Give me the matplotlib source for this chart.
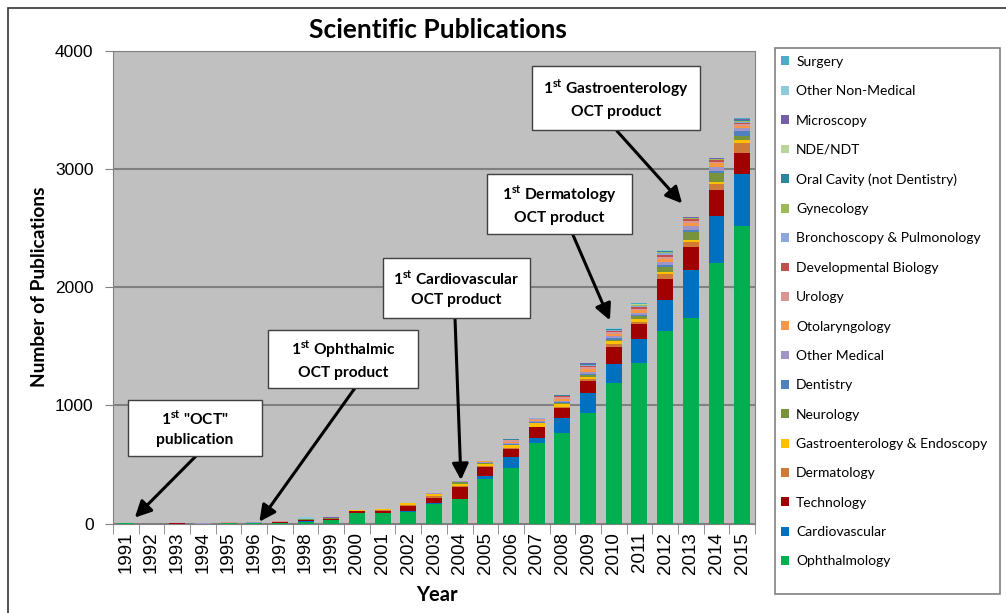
import numpy as np
import matplotlib.pyplot as plt
from matplotlib.patches import Rectangle, Patch

plt.rcParams["font.family"] = ["Lato", "DejaVu Sans"]
plt.rcParams["mathtext.fontset"] = "custom"
plt.rcParams["mathtext.rm"] = "Lato"
plt.rcParams["mathtext.bf"] = "Lato:bold"

years = [str(y) for y in range(1991, 2016)]

# publications per field, 1991..2015 (stacked bottom -> top)
ophthalmology = [1, 0, 0, 0, 4, 3, 4, 15, 30, 90, 85, 97, 163, 205, 377, 468, 680, 770, 934, 1190, 1360, 1627, 1737, 2203, 2517]
cardiovascular = [1, 0, 0, 0, 0, 0, 0, 2, 0, 3, 3, 5, 13, 2, 26, 93, 42, 122, 174, 162, 204, 263, 407, 399, 441]
technology = [2, 0, 2, 0, 2, 0, 12, 12, 5, 10, 19, 46, 43, 100, 75, 70, 93, 89, 102, 145, 126, 183, 195, 220, 180]
dermatology = [0, 0, 0, 0, 0, 0, 0, 2, 0, 5, 6, 10, 10, 12, 8, 8, 6, 8, 10, 20, 20, 42, 45, 51, 82]
gastro = [0, 0, 0, 0, 0, 0, 0, 0, 0, 4, 6, 13, 18, 16, 20, 22, 28, 24, 24, 25, 25, 12, 20, 20, 30]
neurology = [0, 0, 0, 0, 0, 0, 0, 5, 10, 2, 2, 2, 6, 15, 8, 5, 5, 6, 12, 15, 20, 45, 60, 70, 28]
dentistry = [0, 0, 0, 0, 0, 3, 0, 0, 0, 0, 0, 0, 0, 3, 2, 6, 5, 8, 12, 12, 10, 15, 20, 22, 42]
other_medical = [0, 0, 0, 1, 0, 4, 0, 0, 0, 0, 1, 2, 3, 5, 6, 8, 8, 12, 18, 15, 15, 27, 35, 34, 27]
otolaryngology = [0, 0, 0, 0, 0, 0, 0, 0, 0, 0, 0, 0, 0, 2, 4, 14, 10, 18, 20, 20, 25, 25, 25, 29, 22]
urology = [0, 0, 0, 0, 3, 0, 3, 0, 0, 0, 0, 0, 2, 0, 3, 10, 6, 12, 15, 15, 12, 20, 18, 15, 15]
dev_biology = [0, 0, 2, 0, 1, 0, 5, 0, 0, 0, 0, 0, 0, 0, 2, 4, 4, 8, 12, 10, 15, 18, 12, 13, 10]
bronchoscopy = [0, 0, 0, 0, 0, 1, 0, 0, 0, 0, 0, 0, 0, 0, 1, 2, 2, 4, 8, 8, 10, 15, 6, 5, 8]
gynecology = [0, 0, 0, 0, 0, 0, 0, 0, 0, 0, 0, 0, 0, 0, 0, 1, 1, 2, 5, 4, 5, 8, 5, 3, 8]
oral_cavity = [0, 0, 0, 0, 0, 0, 0, 0, 0, 0, 0, 0, 0, 0, 0, 1, 1, 2, 4, 4, 5, 4, 3, 3, 5]
nde_ndt = [0, 0, 0, 0, 0, 0, 0, 0, 3, 0, 0, 0, 0, 0, 0, 1, 0, 1, 3, 3, 4, 3, 2, 2, 5]
microscopy = [0, 0, 0, 2, 0, 4, 0, 5, 3, 0, 0, 0, 0, 0, 0, 1, 0, 1, 2, 2, 4, 2, 2, 2, 5]
other_non_medical = [0, 0, 0, 0, 0, 0, 0, 12, 2, 1, 0, 0, 0, 0, 0, 0, 0, 1, 2, 2, 2, 3, 1, 1, 3]
surgery = [0, 0, 0, 0, 0, 0, 0, 5, 0, 0, 0, 0, 0, 0, 0, 0, 1, 1, 1, 1, 2, 5, 0, 1, 3]

series = [
    ("Ophthalmology", ophthalmology, "#00B050"),
    ("Cardiovascular", cardiovascular, "#0070C0"),
    ("Technology", technology, "#A00000"),
    ("Dermatology", dermatology, "#D07A38"),
    ("Gastroenterology & Endoscopy", gastro, "#FFC000"),
    ("Neurology", neurology, "#77933C"),
    ("Dentistry", dentistry, "#4F81BD"),
    ("Other Medical", other_medical, "#A095C6"),
    ("Otolaryngology", otolaryngology, "#F79646"),
    ("Urology", urology, "#D99694"),
    ("Developmental Biology", dev_biology, "#C0504D"),
    ("Bronchoscopy & Pulmonology", bronchoscopy, "#8AA8DA"),
    ("Gynecology", gynecology, "#9BBB59"),
    ("Oral Cavity (not Dentistry)", oral_cavity, "#31849B"),
    ("NDE/NDT", nde_ndt, "#B9D69A"),
    ("Microscopy", microscopy, "#7460A8"),
    ("Other Non-Medical", other_non_medical, "#8ECADC"),
    ("Surgery", surgery, "#4BACC6"),
]

W, H = 1006, 613
fig = plt.figure(figsize=(W / 100, H / 100), dpi=100)
ax = fig.add_axes([113 / W, (H - 523.5) / H, 642 / W, 472.5 / H])
ax.set_facecolor("#C0C0C0")

x = np.arange(len(years))
bottom = np.zeros(len(years))
handles = []
for name, vals, col in series:
    ax.bar(x, vals, width=0.62, bottom=bottom, color=col, linewidth=0, zorder=3)
    bottom += np.array(vals)
    handles.append(Patch(facecolor=col, label=name))

ax.set_xlim(-0.5, len(years) - 0.5)
ax.set_ylim(0, 4000)
ax.set_yticks([0, 1000, 2000, 3000, 4000])
ax.yaxis.grid(True, color="#808080", lw=1.5, zorder=1)
ax.set_axisbelow(True)
for s in ax.spines.values():
    s.set_color("#808080")
ax.tick_params(axis="y", length=6, color="#808080", pad=8)
for t in ax.get_yticklabels():
    t.set_fontfamily("Liberation Sans")
    t.set_fontsize(12.5)

ax.set_xticks(x)
ax.set_xticklabels(years, rotation=90, fontfamily="Liberation Sans", fontsize=13.5)
ax.set_xticks(np.arange(-0.5, len(years), 1), minor=True)
ax.tick_params(axis="x", which="major", length=0, pad=6)
ax.tick_params(axis="x", which="minor", length=7, color="#808080")

fig.text(438 / W, (H - 30) / H, "Scientific Publications", ha="center", va="center",
         fontsize=19, fontweight="bold")
fig.text(40 / W, (H - 287) / H, "Number of Publications", ha="center", va="center",
         rotation=90, fontsize=13.8, fontweight="bold")
fig.text(437 / W, (H - 595) / H, "Year", ha="center", va="center",
         fontsize=14.5, fontweight="bold")

# outer chart border
fig.add_artist(Rectangle((8 / W, -0.1), 1.2, 1 - 7.5 / H + 0.1, transform=fig.transFigure,
                         fill=False, ec="#333333", lw=1.2))

# legend
fig.add_artist(Rectangle((775 / W, (H - 594) / H), 225 / W, 546 / H, transform=fig.transFigure,
                         fill=False, ec="#808080", lw=1.2))
fig.legend(handles[::-1], [h.get_label() for h in handles[::-1]], loc="upper left",
           bbox_to_anchor=(778 / W, (H - 53) / H), frameon=False, fontsize=10,
           labelspacing=1.25, handlelength=0.6, handleheight=0.6, handletextpad=0.5,
           borderaxespad=0, borderpad=0.2)

# milestone callouts: box (left, top, right, bottom) in pixels, arrow start, arrow tip (year index, value)
callouts = [
    ('1$^{\\mathbf{st}}$ "OCT"\npublication', (128, 400, 262, 456), (197, 455), (0.35, 50)),
    ("1$^{\\mathbf{st}}$ Ophthalmic\nOCT product", (268, 330, 418, 388), (355, 388), (5.2, 15)),
    ("1$^{\\mathbf{st}}$ Cardiovascular\nOCT product", (383, 258, 530, 318), (455, 318), (13.05, 368)),
    ("1$^{\\mathbf{st}}$ Dermatology\nOCT product", (487, 174, 632, 234), (573, 235), (18.85, 1720)),
    ("1$^{\\mathbf{st}}$ Gastroenterology\nOCT product", (532, 66, 700, 130), (617, 131), (21.66, 2710)),
]
for label, (l, t, r, b), (sx, sy), tip in callouts:
    fig.add_artist(Rectangle((l / W, (H - b) / H), (r - l) / W, (b - t) / H,
                             transform=fig.transFigure, fc="white", ec="#404040", lw=1, zorder=5))
    fig.text((l + r) / 2 / W, (H - (t + b) / 2) / H, label, ha="center", va="center",
             fontsize=11.2, fontweight="bold", linespacing=1.5, zorder=6)
    ax.annotate("", xy=tip, xycoords="data", xytext=(sx, H - sy), textcoords="figure pixels",
                arrowprops=dict(arrowstyle="-|>,head_length=0.7,head_width=0.35", color="black",
                                lw=2.2, shrinkA=0, shrinkB=0, mutation_scale=14),
                annotation_clip=False, zorder=7)

fig.savefig("out.png", dpi=100)
